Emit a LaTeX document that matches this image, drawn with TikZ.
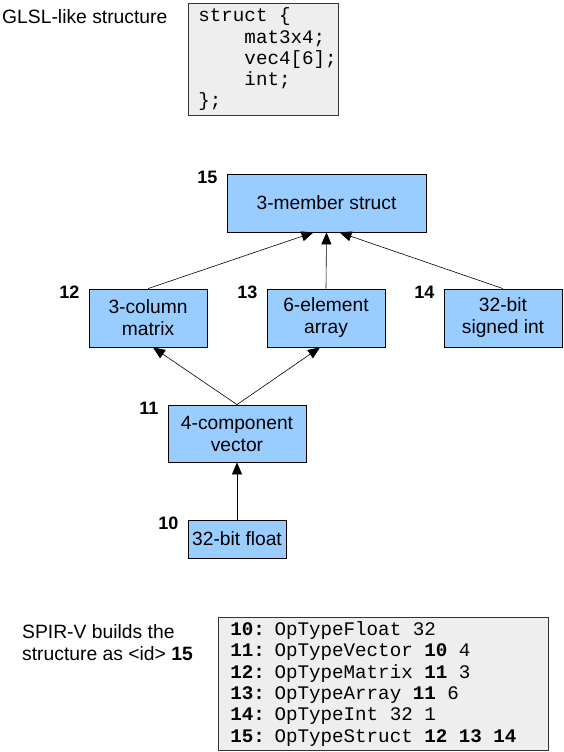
\documentclass[tikz,border=0pt]{standalone}
\usepackage{fontspec}
\setmainfont{Liberation Sans}
\newfontfamily\codefont{Liberation Mono}
\usepackage{tikz}
\usetikzlibrary{calc, positioning, arrows.meta}
\definecolor{typeblue}{RGB}{153,204,255}
\definecolor{codegray}{RGB}{238,238,238}
\tikzset{
	typebox/.style={draw=black, fill=typeblue, line width=0.8pt, align=center, inner sep=0pt, font=\fontsize{19.2}{22}\selectfont},
	idlabel/.style={inner sep=0pt, font=\fontsize{18}{20}\selectfont\bfseries},
	codebox/.style={draw=black!80, fill=codegray, line width=0.8pt, align=left, inner ysep=0pt, font=\codefont\fontsize{19.2}{21.3}\selectfont, execute at begin node={\spaceskip=11.52pt\relax}},
	plaintext/.style={inner sep=0pt, align=left, font=\fontsize{19.3}{22}\selectfont},
	builds/.style={-{Triangle[length=12pt,width=10pt]}, line width=0.6pt}
}
\newcommand\typeblock[6]{\node[typebox, minimum width=#4pt, minimum height=#5pt] (n#1) at (#2,#3) {#6};\node[idlabel, anchor=east] (l#1) at ([xshift=-9pt,yshift=-3.5pt]n#1.north west) {#1};}

\begin{document}
\begin{tikzpicture}[x=1pt,y=-1pt]
	\useasboundingbox (0,0) rectangle (564,752);
	\node[plaintext, anchor=west] (glsltitle) at (2,17) {GLSL-like structure};
	\node[codebox, anchor=north west, minimum width=150pt, minimum height=112pt, text width=130pt, inner xsep=10pt] (glslcode) at (188,3) {struct \{\\\phantom{0000}mat3x4;\\\phantom{0000}vec4[6];\\\phantom{0000}int;\\\};};
	\typeblock{15}{326.5}{203}{199}{58}{3-member struct}
	\typeblock{12}{148}{318}{118}{58}{3-column\\matrix}
	\typeblock{13}{326}{318}{118}{58}{6-element\\array}
	\typeblock{14}{503}{318}{118}{58}{32-bit\\signed int}
	\typeblock{11}{237}{433.5}{138}{57}{4-component\\vector}
	\typeblock{10}{237}{539}{98}{38}{32-bit float}
	\draw[builds] (n12.north) -- ([xshift=-13pt]n15.south);
	\draw[builds] (n13.north) -- (n15.south);
	\draw[builds] (n14.north) -- ([xshift=13pt]n15.south);
	\draw[builds] (n11.north) -- ([xshift=5pt]n12.south);
	\draw[builds] (n11.north) -- ([xshift=-6pt]n13.south);
	\draw[builds] (n10.north) -- (n11.south);
	\node[plaintext, anchor=west] (spirvtitle) at (22,643) {SPIR-V builds the\\structure as <id> \textbf{15}};
	\node[codebox, anchor=north west, minimum width=330pt, minimum height=133pt, text width=306pt, inner xsep=12pt] (spirvcode) at (218,617) {\textbf{10:} OpTypeFloat 32\\\textbf{11:} OpTypeVector \textbf{10} 4\\\textbf{12:} OpTypeMatrix \textbf{11} 3\\\textbf{13:} OpTypeArray \textbf{11} 6\\\textbf{14:} OpTypeInt 32 1\\\textbf{15:} OpTypeStruct \textbf{12 13 14}};
\end{tikzpicture}
\end{document}
